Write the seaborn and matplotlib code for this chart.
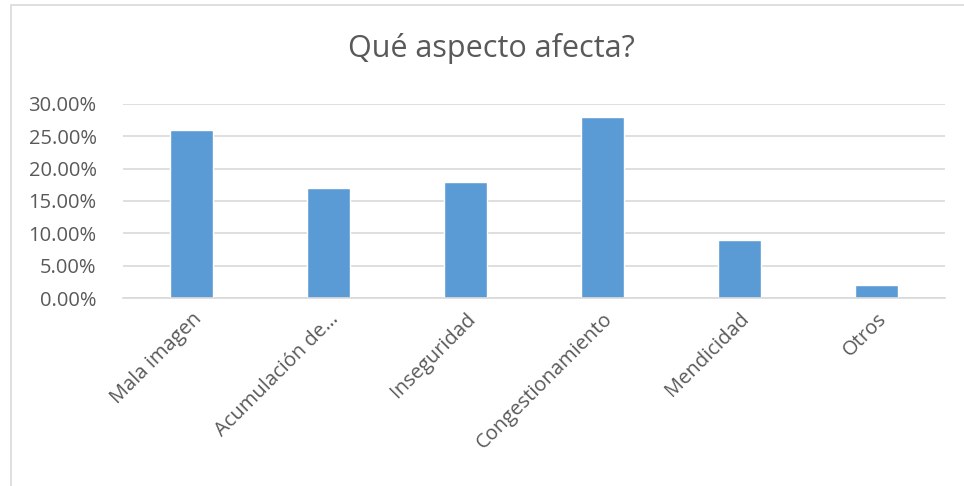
import matplotlib
matplotlib.use("Agg")
import matplotlib.pyplot as plt
import seaborn as sns
import pandas as pd
from matplotlib.ticker import FuncFormatter
from matplotlib.patches import Rectangle

categories = ["Mala imagen", "Acumulación de…", "Inseguridad", "Congestionamiento", "Mendicidad", "Otros"]
values = [0.26, 0.17, 0.18, 0.28, 0.09, 0.02]
title = "Qué aspecto afecta?"

sns.set_theme(style="white")
plt.rcParams['font.family'] = ['Open Sans', 'DejaVu Sans']

df = pd.DataFrame({"cat": categories, "val": values})

fig = plt.figure(figsize=(9.64, 4.86), dpi=100)
ax = fig.add_axes([123/964, 1-298/486, (945-123)/964, (298-104)/486])

sns.barplot(data=df, x="cat", y="val", color="#5B9BD5", width=0.31, ax=ax, saturation=1)

ax.set_ylim(0, 0.30)
ax.set_yticks([0, 0.05, 0.10, 0.15, 0.20, 0.25, 0.30])
ax.yaxis.set_major_formatter(FuncFormatter(lambda v, p: f"{v*100:.2f}%"))
ax.grid(axis="y", color="#D9D9D9", linewidth=1.2)
ax.set_axisbelow(True)
for s in ["top", "right", "left"]:
    ax.spines[s].set_visible(False)
ax.spines["bottom"].set_color("#D9D9D9")
ax.spines["bottom"].set_linewidth(1.2)
ax.set_xlabel("")
ax.set_ylabel("")
ax.tick_params(axis="both", length=0, labelsize=14.5, labelcolor="#595959")
ax.tick_params(axis="y", pad=19)
ax.tick_params(axis="x", pad=8)
plt.setp(ax.get_xticklabels(), rotation=45, ha="right", rotation_mode="anchor")
ax.set_xlim(-0.5, len(categories) - 0.5)

fig.text(491/964, 1-48/486, title, ha="center", va="center", fontsize=22, color="#595959")

fig.patches.append(Rectangle((11/964, -0.1), 1.2, 1 - 5/486 + 0.1, transform=fig.transFigure,
                             fill=False, edgecolor="#D9D9D9", linewidth=1.2, zorder=-1))

fig.savefig("out.png", dpi=100)
